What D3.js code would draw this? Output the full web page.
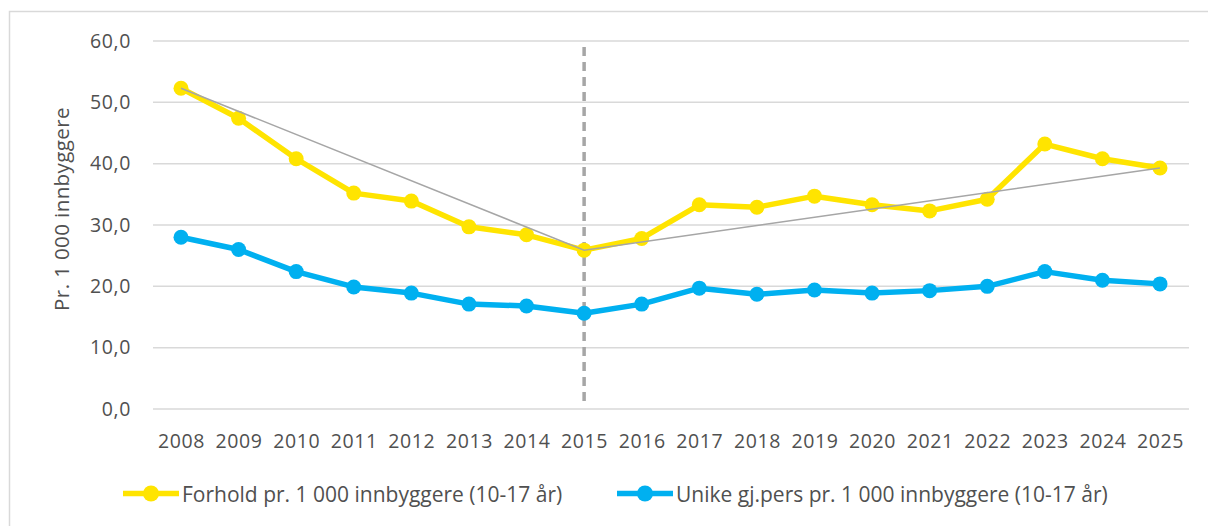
<!DOCTYPE html>
<html>
<head>
<meta charset="utf-8">
<script src="https://cdn.jsdelivr.net/npm/d3@7"></script>
<style>
  html, body { margin: 0; padding: 0; background: #fff; }
  svg { display: block; font-family: "Open Sans", "DejaVu Sans", sans-serif; }
</style>
</head>
<body>
<svg id="chart" width="1208" height="526"></svg>
<script>
const years = [2008, 2009, 2010, 2011, 2012, 2013, 2014, 2015, 2016, 2017, 2018, 2019, 2020, 2021, 2022, 2023, 2024, 2025];
const forhold = [52.3, 47.4, 40.8, 35.2, 33.9, 29.7, 28.4, 25.9, 27.8, 33.3, 32.9, 34.7, 33.3, 32.3, 34.2, 43.2, 40.8, 39.3];
const unike = [28.0, 26.0, 22.4, 19.9, 18.9, 17.1, 16.8, 15.6, 17.1, 19.7, 18.7, 19.4, 18.9, 19.3, 20.0, 22.4, 21.0, 20.4];
const trendYears = [2008, 2015, 2025];
const trendValues = [52.3, 25.9, 39.3];
const markerYear = 2015;
const yTicks = [0, 10, 20, 30, 40, 50, 60];
const seriesNames = ["Forhold pr. 1 000 innbyggere (10-17 år)", "Unike gj.pers pr. 1 000 innbyggere (10-17 år)"];
const yTitle = "Pr. 1 000 innbyggere";

const colors = ["#FFE400", "#00B0F0"];
const textColor = "#505050";
const svg = d3.select("#chart");

// outer border (right/bottom edges fall outside the picture)
svg.append("rect").attr("x", 9.5).attr("y", 11.5).attr("width", 1210).attr("height", 530)
  .attr("fill", "none").attr("stroke", "#d9d9d9").attr("stroke-width", 1.5);

const x = d3.scalePoint().domain(years).range([181, 1160]);
const y = d3.scaleLinear().domain([0, 60]).range([409, 41]);
const gridLeft = 153, gridRight = 1189;

// grid lines
svg.append("g").selectAll("line").data(yTicks).join("line")
  .attr("x1", gridLeft).attr("x2", gridRight)
  .attr("y1", d => y(d)).attr("y2", d => y(d))
  .attr("stroke", "#d9d9d9").attr("stroke-width", 1.5);

// y axis labels
const yAxis = d3.axisLeft(y).tickValues(yTicks).tickSize(0).tickPadding(0)
  .tickFormat(d => d3.format(".1f")(d).replace(".", ","));
const gy = svg.append("g").attr("transform", "translate(131,0)").call(yAxis);
gy.select(".domain").remove();
gy.selectAll("text").attr("font-size", 19.5).attr("fill", textColor)
  .attr("letter-spacing", 0.6).attr("font-family", "'Open Sans', sans-serif");

// x axis labels
const xAxis = d3.axisBottom(x).tickSize(0).tickPadding(0);
const gx = svg.append("g").attr("transform", "translate(0,434.5)").call(xAxis);
gx.select(".domain").remove();
gx.selectAll("text").attr("font-size", 19.5).attr("fill", textColor)
  .attr("letter-spacing", 0.6).attr("font-family", "'Open Sans', sans-serif");

// y title
svg.append("text").attr("transform", `translate(69,209) rotate(-90)`)
  .attr("text-anchor", "middle").attr("font-size", 20.5).attr("letter-spacing", 0.4)
  .attr("fill", textColor).text(yTitle);

// dashed vertical line
svg.append("line").attr("x1", x(markerYear)).attr("x2", x(markerYear))
  .attr("y1", 47).attr("y2", 405)
  .attr("stroke", "#a6a6a6").attr("stroke-width", 3.5).attr("stroke-dasharray", "9,6");

const line = d3.line().x((d, i) => x(years[i])).y(d => y(d));
const series = [forhold, unike];

series.forEach((vals, k) => {
  svg.append("path").datum(vals).attr("d", line)
    .attr("fill", "none").attr("stroke", colors[k]).attr("stroke-width", 5.5)
    .attr("stroke-linejoin", "round");
  svg.append("g").selectAll("circle").data(vals).join("circle")
    .attr("cx", (d, i) => x(years[i])).attr("cy", d => y(d)).attr("r", 7.5)
    .attr("fill", colors[k]);
  if (k === 0) {
    const tl = d3.line().x((d, i) => x(trendYears[i])).y(d => y(d));
    svg.append("path").datum(trendValues).attr("d", tl)
      .attr("fill", "none").attr("stroke", "#a6a6a6").attr("stroke-width", 1.5);
  }
});

// legend
const legendItems = [
  { x0: 123, tx: 182 },
  { x0: 617, tx: 676 }
];
legendItems.forEach((it, k) => {
  const ly = 493.5;
  svg.append("line").attr("x1", it.x0).attr("x2", it.x0 + 56).attr("y1", ly).attr("y2", ly)
    .attr("stroke", colors[k]).attr("stroke-width", 5.5);
  svg.append("circle").attr("cx", it.x0 + 28).attr("cy", ly).attr("r", 8).attr("fill", colors[k]);
  svg.append("text").attr("x", it.tx).attr("y", 502)
    .attr("font-size", 21).attr("fill", textColor).text(seriesNames[k]);
});
</script>
</body>
</html>
